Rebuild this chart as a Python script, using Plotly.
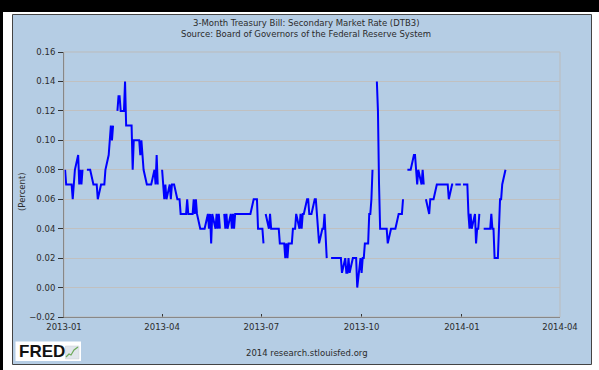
import pandas as pd
import plotly.graph_objects as go

# ---------------- data (DTB3, percent) ----------------
# business-day values, one row per week (Mon..Fri); None = holiday / no data
q1_start = "2012-12-31"
q1_2013 = [
    [None, None, 0.08, 0.07, 0.07],
    [0.07, 0.07, 0.06, 0.07, 0.08],
    [0.09, 0.07, 0.08, 0.07, 0.08],
    [None, 0.08, 0.08, 0.08, 0.08],
    [0.07, 0.07, 0.07, 0.07, 0.06],
    [0.07, 0.07, 0.07, 0.07, 0.08],
    [0.09, 0.10, 0.11, 0.10, 0.11],
    [None, 0.12, 0.13, 0.13, 0.12],
    [0.12, 0.14, 0.11, 0.11, 0.11],
    [0.11, 0.08, 0.10, 0.10, 0.10],
    [0.10, 0.09, 0.10, 0.09, 0.08],
    [0.07, 0.07, 0.07, 0.07, 0.07],
    [0.08, 0.07, 0.09, 0.07, None],
]
q2_start = "2013-04-01"
q2_2013 = [
    [0.08, 0.07, 0.06, 0.07, 0.06],
    [0.07, 0.06, 0.07, 0.07, 0.07],
    [0.06, 0.06, 0.06, 0.05, 0.05],
    [0.05, 0.05, 0.06, 0.05, 0.05],
    [0.05, 0.06, 0.05, 0.06, 0.05],
    [0.04, 0.04, 0.04, 0.04, 0.04],
    [0.05, 0.04, 0.05, 0.03, 0.05],
    [0.04, 0.05, 0.04, 0.05, 0.04],
    [None, 0.05, 0.04, 0.05, 0.04],
    [0.05, 0.04, 0.05, 0.04, 0.05],
    [0.05, 0.05, 0.05, 0.05, 0.05],
    [0.05, 0.05, 0.05, 0.05, 0.05],
    [0.06, 0.06, 0.06, 0.06, 0.04],
]
q3_start = "2013-07-01"
q3_2013 = [
    [0.04, 0.04, 0.03, None, 0.05],
    [0.04, 0.05, 0.04, 0.04, 0.04],
    [0.04, 0.04, 0.04, 0.03, 0.03],
    [0.03, 0.02, 0.03, 0.02, 0.03],
    [0.03, 0.04, 0.04, 0.04, 0.05],
    [0.04, 0.05, 0.04, 0.05, 0.05],
    [0.06, 0.06, 0.05, 0.05, 0.05],
    [0.06, 0.06, 0.05, 0.04, 0.03],
    [0.04, 0.04, 0.05, 0.03, 0.02],
    [None, 0.02, 0.02, 0.02, 0.02],
    [0.02, 0.02, 0.02, 0.02, 0.01],
    [0.02, 0.01, 0.01, 0.02, 0.01],
    [0.02, 0.02, 0.02, 0.02, 0.00],
]
q4_start = "2013-09-30"
q4_2013 = [
    [0.02, 0.01, 0.02, 0.02, 0.03],
    [0.03, 0.05, 0.05, 0.06, 0.08],
    [None, 0.14, 0.12, 0.07, 0.04],
    [0.04, 0.04, 0.04, 0.04, 0.03],
    [0.04, 0.04, 0.04, 0.04, 0.04],
    [0.05, 0.05, 0.05, 0.05, 0.06],
    [None, 0.08, 0.08, 0.08, 0.08],
    [0.09, 0.09, 0.08, 0.07, 0.08],
    [0.07, 0.08, 0.07, None, 0.06],
    [0.05, 0.06, 0.06, 0.06, 0.06],
    [0.07, 0.07, 0.07, 0.07, 0.07],
    [0.07, 0.07, 0.07, 0.07, 0.06],
    [0.07, 0.07, None, 0.07, 0.07],
    [0.07, 0.07, None, 0.07, 0.07],
]
q1_2014_start = "2014-01-06"
q1_2014 = [
    [0.07, 0.05, 0.04, 0.05, 0.04],
    [0.05, 0.03, 0.04, 0.04, 0.05],
    [None, 0.04, 0.04, 0.04, 0.04],
    [0.04, 0.05, 0.04, 0.04, 0.02],
    [0.02, 0.04, 0.06, 0.06, 0.07],
    [0.08],
]

x_tick_vals = ["2013-01-01", "2013-04-01", "2013-07-01", "2013-10-01", "2014-01-01", "2014-04-01"]
x_tick_text = ["2013-01", "2013-04", "2013-07", "2013-10", "2014-01", "2014-04"]
y_tick_vals = [-0.02, 0.0, 0.02, 0.04, 0.06, 0.08, 0.10, 0.12, 0.14, 0.16]

title_line1 = "3-Month Treasury Bill: Secondary Market Rate (DTB3)"
title_line2 = "Source: Board of Governors of the Federal Reserve System"
y_label = "(Percent)"
footer = "2014 research.stlouisfed.org"

# ---------------- assemble daily series ----------------
dates, values = [], []
for start, block in [(q1_start, q1_2013), (q2_start, q2_2013), (q3_start, q3_2013),
                     (q4_start, q4_2013), (q1_2014_start, q1_2014)]:
    monday = pd.Timestamp(start)
    for w, week in enumerate(block):
        for d, v in enumerate(week):
            day = monday + pd.Timedelta(days=7 * w + d)
            if day < pd.Timestamp("2013-01-01"):
                continue
            dates.append(day)
            values.append(v)

# ---------------- figure ----------------
W, H = 599, 370
L, R, T, B = 64, 39, 52, 53
pw, ph = W - L - R, H - T - B


def px(x):
    return (x - L) / pw


def py(y):
    return (H - B - y) / ph


FONT = "DejaVu Sans"
TXT = "#2b2b2b"

fig = go.Figure()
fig.add_trace(go.Scatter(
    x=dates, y=values, mode="lines", connectgaps=False,
    line=dict(color="#0000ff", width=2), hoverinfo="x+y",
))

shapes = [
    # black top band and left stripe
    dict(type="rect", xref="paper", yref="paper", x0=px(0), x1=px(W), y0=py(12), y1=py(0),
         fillcolor="black", line=dict(width=0), layer="below"),
    dict(type="rect", xref="paper", yref="paper", x0=px(0), x1=px(3), y0=py(H), y1=py(0),
         fillcolor="black", line=dict(width=0), layer="below"),
    # light blue panel
    dict(type="rect", xref="paper", yref="paper", x0=px(12.5), x1=px(591.5), y0=py(364.5), y1=py(14.5),
         fillcolor="rgb(181,205,228)", line=dict(color="#444444", width=1), layer="below"),
    # plot frame (light)
    dict(type="rect", xref="paper", yref="paper", x0=0, x1=1, y0=0, y1=1,
         line=dict(color="#bbbbbb", width=1), layer="above"),
    # FRED logo box
    dict(type="rect", xref="paper", yref="paper", x0=px(15.5), x1=px(81), y0=py(361), y1=py(341.5),
         fillcolor="white", line=dict(width=0), layer="below"),
    dict(type="rect", xref="paper", yref="paper", x0=px(65.5), x1=px(79), y0=py(359), y1=py(346),
         fillcolor="rgb(225,230,236)", line=dict(color="rgb(200,205,212)", width=0.5)),
    dict(type="path", xref="paper", yref="paper",
         path=f"M {px(66)} {py(357)} L {px(69)} {py(354)} L {px(71)} {py(355)} L {px(74)} {py(350)} L {px(78)} {py(347)}",
         line=dict(color="rgb(110,170,90)", width=1.2)),
]

annotations = [
    dict(text=title_line1, x=px(306), y=py(23), xref="paper", yref="paper", showarrow=False,
         font=dict(family=FONT, size=8.5, color=TXT), xanchor="center", yanchor="middle"),
    dict(text=title_line2, x=px(306), y=py(34.5), xref="paper", yref="paper", showarrow=False,
         font=dict(family=FONT, size=8.5, color=TXT), xanchor="center", yanchor="middle"),
    dict(text=y_label, x=px(22), y=py(192), xref="paper", yref="paper", showarrow=False,
         textangle=-90, font=dict(family=FONT, size=8.5, color=TXT), xanchor="center", yanchor="middle"),
    dict(text=footer, x=px(307), y=py(353), xref="paper", yref="paper", showarrow=False,
         font=dict(family=FONT, size=8.5, color=TXT), xanchor="center", yanchor="middle"),
    dict(text="<b>FRED</b>", x=px(16.5), y=py(351.5), xref="paper", yref="paper", showarrow=False,
         font=dict(family="Liberation Sans", size=17, color="#111111"), xanchor="left", yanchor="middle"),
]

fig.update_layout(
    width=W, height=H,
    margin=dict(l=L, r=R, t=T, b=B, pad=0),
    paper_bgcolor="white", plot_bgcolor="white",
    showlegend=False,
    shapes=shapes, annotations=annotations,
    xaxis=dict(
        type="date", range=["2013-01-01", "2014-04-01"],
        tickmode="array", tickvals=x_tick_vals, ticktext=x_tick_text,
        ticks="inside", ticklen=3, tickcolor="#333333",
        showgrid=False, zeroline=False,
        showline=True, linecolor="#555555", linewidth=1,
        tickfont=dict(family=FONT, size=8.5, color=TXT),
        ticklabelstandoff=2,
    ),
    yaxis=dict(
        range=[-0.02, 0.16], tickmode="array", tickvals=y_tick_vals,
        tickformat=".2f",
        ticks="outside", ticklen=5, tickcolor="#333333",
        showgrid=True, gridcolor="rgb(192,192,192)", gridwidth=1,
        zeroline=False,
        showline=True, linecolor="#555555", linewidth=1,
        tickfont=dict(family=FONT, size=8.5, color=TXT),
        ticklabelstandoff=1,
    ),
)

fig.write_html("out.html", config={"displayModeBar": False},
               post_script="document.body.style.margin='0';")
